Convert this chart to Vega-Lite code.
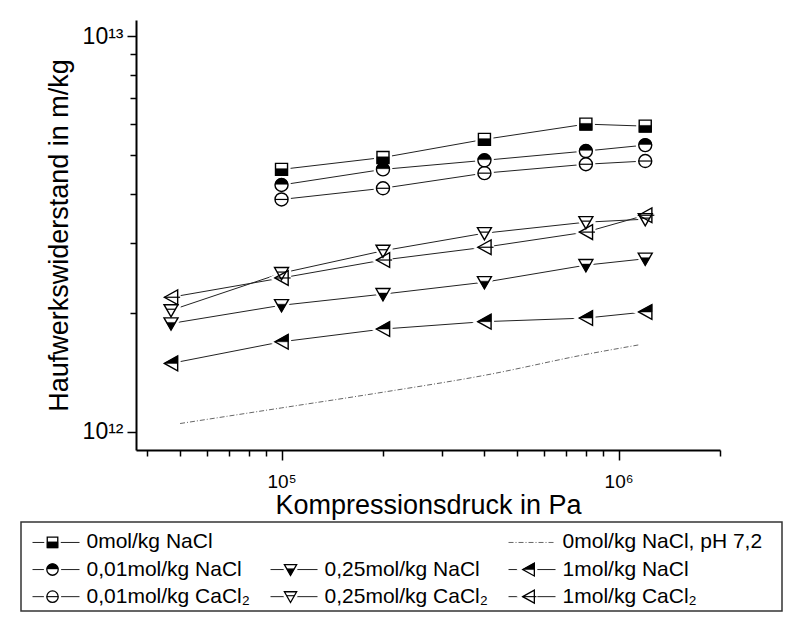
{
  "$schema": "https://vega.github.io/schema/vega-lite/v6.json",
  "padding": {"left": 20, "top": 20, "right": 5, "bottom": 9},
  "background": "white",
  "spacing": 3,
  "config": {
    "view": {"stroke": null},
    "font": "Liberation Sans",
    "axis": {
      "grid": false,
      "domainColor": "black",
      "domainWidth": 2,
      "tickColor": "black",
      "tickWidth": 1.5,
      "labelColor": "black",
      "titleColor": "black",
      "titleFontWeight": "normal",
      "labelFlush": false,
      "labelOverlap": false,
      "labelBound": false,
      "titleFont": "Liberation Sans",
      "labelFont": "Liberation Sans"
    }
  },
  "datasets": {
    "meas": [
      {"series": "S0", "p": 100000, "r": 4.61e12},
      {"series": "S0", "p": 200000, "r": 4.94e12},
      {"series": "S0", "p": 400000, "r": 5.49e12},
      {"series": "S0", "p": 800000, "r": 6.0e12},
      {"series": "S0", "p": 1200000, "r": 5.93e12},
      {"series": "S1", "p": 100000, "r": 4.21e12},
      {"series": "S1", "p": 200000, "r": 4.61e12},
      {"series": "S1", "p": 400000, "r": 4.86e12},
      {"series": "S1", "p": 800000, "r": 5.13e12},
      {"series": "S1", "p": 1200000, "r": 5.31e12},
      {"series": "S2", "p": 100000, "r": 3.87e12},
      {"series": "S2", "p": 200000, "r": 4.13e12},
      {"series": "S2", "p": 400000, "r": 4.51e12},
      {"series": "S2", "p": 800000, "r": 4.75e12},
      {"series": "S2", "p": 1200000, "r": 4.84e12},
      {"series": "S3", "p": 47000, "r": 1.88e12},
      {"series": "S3", "p": 100000, "r": 2.09e12},
      {"series": "S3", "p": 200000, "r": 2.23e12},
      {"series": "S3", "p": 400000, "r": 2.39e12},
      {"series": "S3", "p": 800000, "r": 2.64e12},
      {"series": "S3", "p": 1200000, "r": 2.74e12},
      {"series": "S4", "p": 47000, "r": 2.03e12},
      {"series": "S4", "p": 100000, "r": 2.52e12},
      {"series": "S4", "p": 200000, "r": 2.87e12},
      {"series": "S4", "p": 400000, "r": 3.18e12},
      {"series": "S4", "p": 800000, "r": 3.39e12},
      {"series": "S4", "p": 1200000, "r": 3.45e12},
      {"series": "S5", "p": 47000, "r": 1.49e12},
      {"series": "S5", "p": 100000, "r": 1.69e12},
      {"series": "S5", "p": 200000, "r": 1.82e12},
      {"series": "S5", "p": 400000, "r": 1.90e12},
      {"series": "S5", "p": 800000, "r": 1.94e12},
      {"series": "S5", "p": 1200000, "r": 2.01e12},
      {"series": "S6", "p": 47000, "r": 2.19e12},
      {"series": "S6", "p": 100000, "r": 2.45e12},
      {"series": "S6", "p": 200000, "r": 2.72e12},
      {"series": "S6", "p": 400000, "r": 2.93e12},
      {"series": "S6", "p": 800000, "r": 3.20e12},
      {"series": "S6", "p": 1200000, "r": 3.53e12},
      {"series": "pH", "p": 50000, "r": 1.05e12},
      {"series": "pH", "p": 100000, "r": 1.15e12},
      {"series": "pH", "p": 200000, "r": 1.26e12},
      {"series": "pH", "p": 400000, "r": 1.39e12},
      {"series": "pH", "p": 800000, "r": 1.57e12},
      {"series": "pH", "p": 1150000, "r": 1.66e12}
    ],
    "leg": [
      {"series": "S0", "row": 0, "col": 0, "label": "\u00a00mol/kg NaCl"},
      {"series": "pH", "row": 0, "col": 2, "label": "0mol/kg NaCl, pH 7,2"},
      {"series": "S1", "row": 1, "col": 0, "label": "0,01mol/kg NaCl"},
      {"series": "S3", "row": 1, "col": 1, "label": "0,25mol/kg NaCl"},
      {"series": "S5", "row": 1, "col": 2, "label": "1mol/kg NaCl"},
      {"series": "S2", "row": 2, "col": 0, "label": "0,01mol/kg CaCl₂"},
      {"series": "S4", "row": 2, "col": 1, "label": "0,25mol/kg CaCl₂"},
      {"series": "S6", "row": 2, "col": 2, "label": "1mol/kg CaCl₂"}
    ]
  },
  "resolve": {"scale": {"shape": "independent", "x": "independent", "y": "independent"}},
  "vconcat": [
    {
      "spacing": 0,
      "resolve": {"scale": {"shape": "independent", "x": "independent", "y": "independent"}},
      "hconcat": [
        {
          "width": 24,
          "height": 10,
          "view": {"fill": "white", "stroke": null},
          "data": {"values": []},
          "mark": "point"
        },
        {
          "width": 584,
          "height": 430,
          "data": {"name": "meas"},
          "encoding": {
            "x": {
              "field": "p", "type": "quantitative",
              "scale": {"type": "log", "domain": [37000, 2000000], "nice": false},
              "title": "Kompressionsdruck in Pa",
              "axis": {
                "values": [40000, 50000, 60000, 70000, 80000, 90000, 100000, 200000, 300000, 400000, 500000, 600000, 700000, 800000, 900000, 1000000, 2000000],
                "labelExpr": "datum.value == 100000 ? '10⁵' : datum.value == 1000000 ? '10⁶' : ''",
                "tickSize": {"condition": {"test": "datum.value == 100000 || datum.value == 1000000", "value": 10}, "value": 6},
                "labelFontSize": 19,
                "labelPadding": 12,
                "titleFontSize": 27,
                "titlePadding": 1
              }
            },
            "y": {
              "field": "r", "type": "quantitative",
              "scale": {"type": "log", "domain": [9e11, 1.1e13], "nice": false},
              "title": "Haufwerkswiderstand in m/kg",
              "axis": {
                "values": [1e12, 2e12, 3e12, 4e12, 5e12, 6e12, 7e12, 8e12, 9e12, 1e13],
                "labelExpr": "datum.value == 1e12 ? '10¹²' : datum.value == 1e13 ? '10¹³' : ''",
                "tickSize": {"condition": {"test": "datum.value == 1e12 || datum.value == 1e13", "value": 9}, "value": 6},
                "labelFontSize": 23,
                "labelPadding": 4,
                "titleFontSize": 27,
                "titlePadding": 9
              }
            }
          },
          "resolve": {"scale": {"shape": "independent"}},
          "layer": [
            {
              "transform": [{"filter": "datum.series != 'pH'"}],
              "mark": {"type": "line", "stroke": "#222", "strokeWidth": 1},
              "encoding": {"detail": {"field": "series"}}
            },
            {
              "transform": [{"filter": "datum.series == 'pH'"}],
              "mark": {"type": "line", "stroke": "#666", "strokeWidth": 1, "strokeDash": [5, 2, 1, 2], "interpolate": "monotone"}
            },
            {
              "transform": [{"filter": "datum.series != 'pH'"}],
              "mark": {"type": "point", "filled": true, "fill": "white", "stroke": "white", "strokeWidth": 6, "size": 196, "opacity": 1},
              "encoding": {
                "shape": {"field": "series", "type": "nominal", "legend": null,
                  "scale": {"domain": ["S0", "S1", "S2", "S3", "S4", "S5", "S6"],
                    "range": ["M-0.86,-0.86H0.86V0.86H-0.86Z", "M0.93,0A0.93,0.93,0,1,1,-0.93,0A0.93,0.93,0,1,1,0.93,0Z", "M0.93,0A0.93,0.93,0,1,1,-0.93,0A0.93,0.93,0,1,1,0.93,0Z", "M-1,-0.8H1L0,0.95Z", "M-1,-0.8H1L0,0.95Z", "M-0.95,0L0.95,-1.05V1.05Z", "M-0.95,0L0.95,-1.05V1.05Z"]}}
              }
            },
            {
              "transform": [{"filter": "datum.series != 'pH'"}],
              "mark": {"type": "point", "filled": false, "stroke": "black", "strokeWidth": 1.4, "size": 196, "opacity": 1},
              "encoding": {
                "shape": {"field": "series", "type": "nominal", "legend": null,
                  "scale": {"domain": ["S0", "S1", "S2", "S3", "S4", "S5", "S6"],
                    "range": ["M-0.86,-0.86H0.86V0.86H-0.86Z", "M0.93,0A0.93,0.93,0,1,1,-0.93,0A0.93,0.93,0,1,1,0.93,0Z", "M0.93,0A0.93,0.93,0,1,1,-0.93,0A0.93,0.93,0,1,1,0.93,0Z", "M-1,-0.8H1L0,0.95Z", "M-1,-0.8H1L0,0.95Z", "M-0.95,0L0.95,-1.05V1.05Z", "M-0.95,0L0.95,-1.05V1.05Z"]}}
              }
            },
            {
              "transform": [{"filter": {"field": "series", "oneOf": ["S0", "S1", "S3", "S5"]}}],
              "mark": {"type": "point", "filled": true, "fill": "black", "stroke": "black", "strokeWidth": 0.5, "size": 196, "opacity": 1},
              "encoding": {
                "shape": {"field": "series", "type": "nominal", "legend": null,
                  "scale": {"domain": ["S0", "S1", "S3", "S5"],
                    "range": ["M-0.86,-0.1H0.86V0.86H-0.86Z", "M-0.925,-0.1A0.93,0.93,0,0,1,0.925,-0.1Z", "M-0.63,-0.15H0.63L0,0.95Z", "M-0.95,0L0.95,-1.05V0Z"]}}
              }
            },
            {
              "transform": [{"filter": {"field": "series", "oneOf": ["S2", "S4", "S6"]}}],
              "mark": {"type": "point", "filled": false, "stroke": "black", "strokeWidth": 1.2, "size": 196, "opacity": 1},
              "encoding": {
                "shape": {"field": "series", "type": "nominal", "legend": null,
                  "scale": {"domain": ["S2", "S4", "S6"],
                    "range": ["M-0.93,0H0.93", "M-0.63,-0.15H0.63", "M-0.95,0H1.3"]}}
              }
            }
          ]
        }
      ]
    },
    {
      "width": 761,
      "height": 89,
      "view": {"stroke": "#333", "strokeWidth": 1.5},
      "data": {"name": "leg"},
      "encoding": {
        "x": {"field": "col", "type": "quantitative", "axis": null,
          "scale": {"domain": [-0.1324, 3.065], "nice": false, "zero": false}},
        "y": {"field": "row", "type": "quantitative", "axis": null,
          "scale": {"domain": [-0.755, 2.53], "nice": false, "zero": false, "reverse": true}}
      },
      "resolve": {"scale": {"shape": "independent"}},
      "layer": [
        {
          "transform": [{"filter": "datum.series != 'pH'"}],
          "mark": {"type": "rule", "stroke": "#222", "strokeWidth": 1, "xOffset": -20, "x2Offset": 27},
          "encoding": {"x2": {"field": "col"}}
        },
        {
          "transform": [{"filter": "datum.series == 'pH'"}],
          "mark": {"type": "rule", "stroke": "#666", "strokeWidth": 1, "strokeDash": [5, 2, 1, 2], "xOffset": -20, "x2Offset": 27},
          "encoding": {"x2": {"field": "col"}}
        },
        {
          "transform": [{"filter": "datum.series != 'pH'"}],
          "mark": {"type": "point", "filled": true, "fill": "white", "stroke": "white", "strokeWidth": 6, "size": 150, "opacity": 1},
          "encoding": {
            "shape": {"field": "series", "type": "nominal", "legend": null,
              "scale": {"domain": ["S0", "S1", "S2", "S3", "S4", "S5", "S6"],
                "range": ["M-0.86,-0.86H0.86V0.86H-0.86Z", "M0.93,0A0.93,0.93,0,1,1,-0.93,0A0.93,0.93,0,1,1,0.93,0Z", "M0.93,0A0.93,0.93,0,1,1,-0.93,0A0.93,0.93,0,1,1,0.93,0Z", "M-1,-0.8H1L0,0.95Z", "M-1,-0.8H1L0,0.95Z", "M-0.95,0L0.95,-1.05V1.05Z", "M-0.95,0L0.95,-1.05V1.05Z"]}}
          }
        },
        {
          "transform": [{"filter": "datum.series != 'pH'"}],
          "mark": {"type": "point", "filled": false, "stroke": "black", "strokeWidth": 1.3, "size": 150, "opacity": 1},
          "encoding": {
            "shape": {"field": "series", "type": "nominal", "legend": null,
              "scale": {"domain": ["S0", "S1", "S2", "S3", "S4", "S5", "S6"],
                "range": ["M-0.86,-0.86H0.86V0.86H-0.86Z", "M0.93,0A0.93,0.93,0,1,1,-0.93,0A0.93,0.93,0,1,1,0.93,0Z", "M0.93,0A0.93,0.93,0,1,1,-0.93,0A0.93,0.93,0,1,1,0.93,0Z", "M-1,-0.8H1L0,0.95Z", "M-1,-0.8H1L0,0.95Z", "M-0.95,0L0.95,-1.05V1.05Z", "M-0.95,0L0.95,-1.05V1.05Z"]}}
          }
        },
        {
          "transform": [{"filter": {"field": "series", "oneOf": ["S0", "S1", "S3", "S5"]}}],
          "mark": {"type": "point", "filled": true, "fill": "black", "stroke": "black", "strokeWidth": 0.5, "size": 150, "opacity": 1},
          "encoding": {
            "shape": {"field": "series", "type": "nominal", "legend": null,
              "scale": {"domain": ["S0", "S1", "S3", "S5"],
                "range": ["M-0.86,-0.1H0.86V0.86H-0.86Z", "M-0.925,-0.1A0.93,0.93,0,0,1,0.925,-0.1Z", "M-0.63,-0.15H0.63L0,0.95Z", "M-0.95,0L0.95,-1.05V0Z"]}}
          }
        },
        {
          "transform": [{"filter": {"field": "series", "oneOf": ["S2", "S4", "S6"]}}],
          "mark": {"type": "point", "filled": false, "stroke": "black", "strokeWidth": 1.1, "size": 150, "opacity": 1},
          "encoding": {
            "shape": {"field": "series", "type": "nominal", "legend": null,
              "scale": {"domain": ["S2", "S4", "S6"],
                "range": ["M-0.93,0H0.93", "M-0.63,-0.15H0.63", "M-0.95,0H1.3"]}}
          }
        },
        {
          "mark": {"type": "text", "align": "left", "baseline": "middle", "dx": 34, "fontSize": 21, "font": "Liberation Sans", "color": "black"},
          "encoding": {"text": {"field": "label"}}
        }
      ]
    }
  ]
}
